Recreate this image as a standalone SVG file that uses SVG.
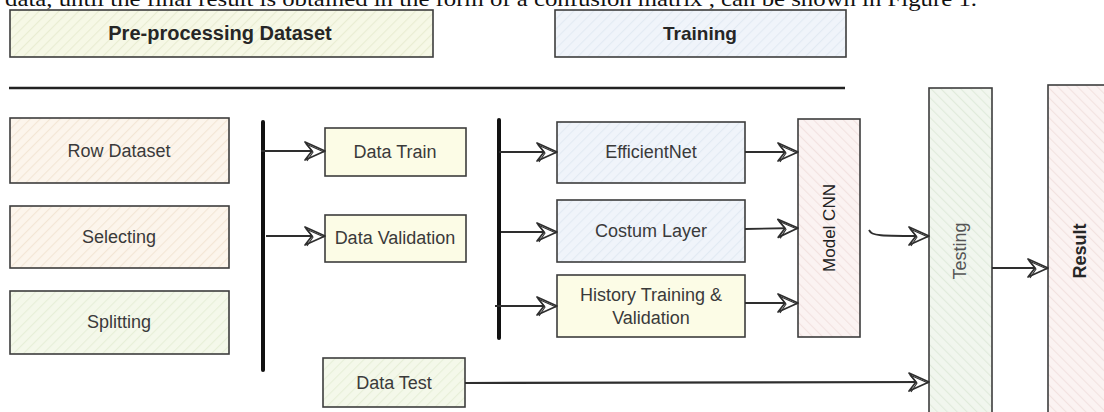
<svg xmlns="http://www.w3.org/2000/svg" width="1104" height="412" viewBox="0 0 1104 412">
  <defs>
    <style>
      .box { stroke: #3d3d3d; stroke-width: 1.6; }
      .lbl { font-family: "Liberation Sans", Arial, sans-serif; font-size: 18px; fill: #3a3a3a; text-anchor: middle; }
      .hdr { font-family: "Liberation Sans", Arial, sans-serif; font-size: 19px; font-weight: bold; fill: #262626; text-anchor: middle; }
      .conn { fill: none; stroke: #2e2e2e; stroke-width: 1.8; }
      .bar { fill: none; stroke: #111; stroke-width: 4; stroke-linecap: round; }
      .caption { font-family: "Liberation Serif", "Times New Roman", serif; font-size: 22px; fill: #111; }
    </style>
    <!-- hachure fills: "/" for upright boxes, "\" for the vertical ones -->
    <pattern id="hPeach" width="7" height="7" patternUnits="userSpaceOnUse" patternTransform="rotate(45)">
      <rect width="7" height="7" fill="#fcf5ec"/>
      <line x1="0" y1="0" x2="0" y2="7" stroke="#f3e6d5" stroke-width="2.2"/>
    </pattern>
    <pattern id="hGreen" width="7" height="7" patternUnits="userSpaceOnUse" patternTransform="rotate(45)">
      <rect width="7" height="7" fill="#f4f8ea"/>
      <line x1="0" y1="0" x2="0" y2="7" stroke="#e7efd8" stroke-width="2.2"/>
    </pattern>
    <pattern id="hLime" width="7" height="7" patternUnits="userSpaceOnUse" patternTransform="rotate(45)">
      <rect width="7" height="7" fill="#f6f8e6"/>
      <line x1="0" y1="0" x2="0" y2="7" stroke="#e9edd2" stroke-width="2.2"/>
    </pattern>
    <pattern id="hBlue" width="7" height="7" patternUnits="userSpaceOnUse" patternTransform="rotate(45)">
      <rect width="7" height="7" fill="#f0f4fa"/>
      <line x1="0" y1="0" x2="0" y2="7" stroke="#e2eaf3" stroke-width="2.2"/>
    </pattern>
    <pattern id="hPink" width="7" height="7" patternUnits="userSpaceOnUse" patternTransform="rotate(-45)">
      <rect width="7" height="7" fill="#fbf3f2"/>
      <line x1="0" y1="0" x2="0" y2="7" stroke="#f2e2e0" stroke-width="2.2"/>
    </pattern>
    <pattern id="hMint" width="7" height="7" patternUnits="userSpaceOnUse" patternTransform="rotate(-45)">
      <rect width="7" height="7" fill="#f1f6ee"/>
      <line x1="0" y1="0" x2="0" y2="7" stroke="#e0ebdb" stroke-width="2.2"/>
    </pattern>
    <!-- sketchy open arrowhead -->
    <marker id="arr" viewBox="-24 -12 26 24" markerWidth="26" markerHeight="24" refX="0" refY="0" orient="auto" markerUnits="userSpaceOnUse">
      <path d="M0,0 L-20,-9 L-13,0 L-20,9 Z" fill="#fff" stroke="#2e2e2e" stroke-width="1.7" stroke-linejoin="round"/>
      <path d="M-1,1 L-19,-7 L-12,1 L-18,10" fill="none" stroke="#2e2e2e" stroke-width="1.1"/>
    </marker>
  </defs>

  <rect width="1104" height="412" fill="#fff"/>

  <!-- running text line above the figure -->
  <text class="caption" x="5" y="6" textLength="972" lengthAdjust="spacingAndGlyphs">data, until the final result is obtained in the form of a confusion matrix , can be shown in Figure 1.</text>

  <!-- section headers -->
  <g id="hdr-preprocessing">
    <rect class="box" x="10" y="10" width="423" height="47" fill="url(#hLime)"/>
    <text class="hdr" x="220" y="40" style="font-size:20px">Pre-processing Dataset</text>
  </g>
  <g id="hdr-training">
    <rect class="box" x="555" y="10" width="291" height="47" fill="url(#hBlue)"/>
    <text class="hdr" x="700" y="40">Training</text>
  </g>

  <!-- divider -->
  <line x1="9" y1="88" x2="845" y2="88" stroke="#222" stroke-width="2.4"/>

  <!-- pre-processing steps -->
  <g id="row-dataset">
    <rect class="box" x="10" y="118" width="219" height="65" fill="url(#hPeach)"/>
    <text class="lbl" x="119" y="157">Row Dataset</text>
  </g>
  <g id="selecting">
    <rect class="box" x="10" y="206" width="219" height="62" fill="url(#hPeach)"/>
    <text class="lbl" x="119" y="243">Selecting</text>
  </g>
  <g id="splitting">
    <rect class="box" x="10" y="291" width="219" height="63" fill="url(#hGreen)"/>
    <text class="lbl" x="119" y="328">Splitting</text>
  </g>

  <!-- data splits -->
  <g id="data-train">
    <rect class="box" x="325" y="128" width="141" height="48" fill="#fcfce6"/>
    <text class="lbl" x="395" y="158">Data Train</text>
  </g>
  <g id="data-validation">
    <rect class="box" x="325" y="215" width="141" height="47" fill="#fcfce6"/>
    <text class="lbl" x="395" y="244">Data Validation</text>
  </g>
  <g id="data-test">
    <rect class="box" x="323" y="358" width="142" height="49" fill="url(#hGreen)" stroke="#7a9a70"/>
    <text class="lbl" x="394" y="389">Data Test</text>
  </g>

  <!-- training blocks -->
  <g id="efficientnet">
    <rect class="box" x="557" y="122" width="188" height="61" fill="url(#hBlue)"/>
    <text class="lbl" x="651" y="158">EfficientNet</text>
  </g>
  <g id="costum-layer">
    <rect class="box" x="557" y="200" width="188" height="62" fill="url(#hBlue)"/>
    <text class="lbl" x="651" y="237">Costum Layer</text>
  </g>
  <g id="history">
    <rect class="box" x="557" y="275" width="188" height="62" fill="#fcfce6"/>
    <text class="lbl" x="651" y="301">History Training &amp;</text>
    <text class="lbl" x="651" y="324">Validation</text>
  </g>

  <g id="model-cnn">
    <rect class="box" x="798" y="119" width="62" height="218" fill="url(#hPink)"/>
    <text class="lbl" transform="translate(835,228) rotate(-90)" x="0" y="0" style="fill:#222;font-size:17px">Model CNN</text>
  </g>
  <g id="testing">
    <rect class="box" x="929" y="88" width="63" height="340" fill="url(#hMint)"/>
    <text class="lbl" transform="translate(966,251) rotate(-90)" x="0" y="0" style="fill:#555">Testing</text>
  </g>
  <g id="result">
    <rect class="box" x="1048" y="85" width="64" height="340" fill="url(#hPink)"/>
    <text class="hdr" transform="translate(1086,251) rotate(-90)" x="0" y="0" style="font-size:18px">Result</text>
  </g>

  <!-- connectors -->
  <g id="connectors">
    <line class="bar" x1="263" y1="122" x2="263" y2="370"/>
    <line class="bar" x1="499" y1="120" x2="499" y2="338"/>
    <path class="conn" d="M261,151 L325,151" marker-end="url(#arr)"/>
    <path class="conn" d="M266,236 L325,236" marker-end="url(#arr)"/>
    <path class="conn" d="M499,152 L557,152" marker-end="url(#arr)"/>
    <path class="conn" d="M501,232 L557,232" marker-end="url(#arr)"/>
    <path class="conn" d="M495,306 L557,306" marker-end="url(#arr)"/>
    <path class="conn" d="M745,152 L798,152" marker-end="url(#arr)"/>
    <path class="conn" d="M745,229 L798,228" marker-end="url(#arr)"/>
    <path class="conn" d="M745,303 L798,303" marker-end="url(#arr)"/>
    <path class="conn" d="M869,230 C872,236 878,236 929,236" marker-end="url(#arr)"/>
    <path class="conn" d="M992,268 L1048,268" marker-end="url(#arr)"/>
    <path class="conn" d="M465,383 L929,382" marker-end="url(#arr)" style="stroke-width:2.2"/>
  </g>
</svg>
